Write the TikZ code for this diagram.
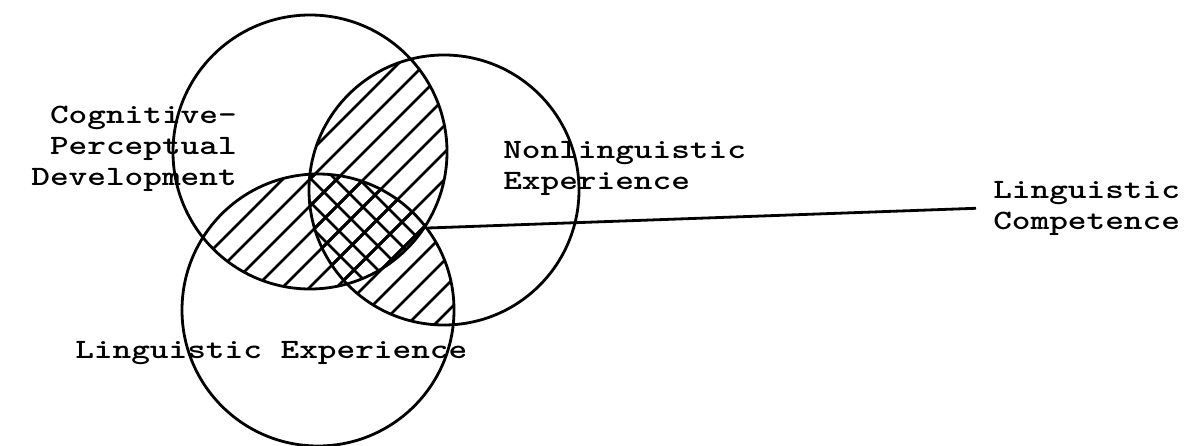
\documentclass[tikz,border=0pt]{standalone}
\usepackage{tikz}
\usetikzlibrary{positioning}

\begin{document}
\begin{tikzpicture}[x=1pt, y=-1pt,
    ring/.style={line width=2.8pt},
    hatch/.style={line width=2.6pt},
    tw/.style={font=\ttfamily\bfseries\fontsize{28}{31}\selectfont,
               xscale=1.27, inner sep=0pt}]
  \useasboundingbox (0,0) rectangle (1185,446);
  % centres of the three circles
  \coordinate (cpd) at (310,152);
  \coordinate (nle) at (444,190);
  \coordinate (le) at (318,310);
  \coordinate (apex) at (428,228);

  % single hatching in the overlaps
  \begin{scope}
    \clip (cpd) circle (137pt);
    \clip (nle) circle (135pt);
    \foreach \c in {300,327,...,1100}
      \draw[hatch] (\c-450,450) -- (\c,0);
  \end{scope}
  \begin{scope}
    \clip (cpd) circle (137pt);
    \clip (le) circle (136pt);
    \foreach \c in {300,327,...,1100}
      \draw[hatch] (\c-450,450) -- (\c,0);
  \end{scope}
  \begin{scope}
    \clip (nle) circle (135pt);
    \clip (le) circle (136pt);
    \foreach \c in {300,327,...,1100}
      \draw[hatch] (\c-450,450) -- (\c,0);
  \end{scope}
  % cross hatching where all three meet
  \begin{scope}
    \clip (cpd) circle (137pt);
    \clip (nle) circle (135pt);
    \clip (le) circle (136pt);
    \foreach \c in {-300,-276,...,500}
      \draw[hatch] (\c,0) -- (\c+450,450);
  \end{scope}

  \draw[ring] (cpd) circle (137pt);
  \draw[ring] (nle) circle (135pt);
  \draw[ring] (le) circle (136pt);

  \node[tw, anchor=north east, align=right] (cpdtext) at (237,106)
    {Cognitive-\\Perceptual\\Development};
  \node[tw, anchor=north west, align=left] (nletext) at (503,141)
    {Nonlinguistic\\Experience};
  \node[tw, anchor=north west] (letext) at (75,341) {Linguistic Experience};
  \node[tw, anchor=north west, align=left] (lc) at (993,181)
    {Linguistic\\Competence};

  \draw[ring] (apex) -- ([xshift=-17pt]lc.west);
\end{tikzpicture}
\end{document}
